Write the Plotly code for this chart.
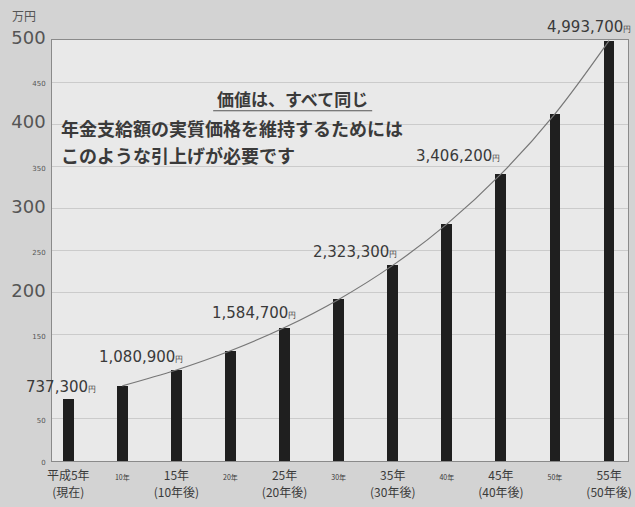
import plotly.graph_objects as go

# ---- data ----
categories = ["平成5年", "10年", "15年", "20年", "25年", "30年", "35年", "40年", "45年", "50年", "55年"]
sublabels = ["(現在)", "", "(10年後)", "", "(20年後)", "", "(30年後)", "", "(40年後)", "", "(50年後)"]
values = [73.73, 89.3, 108.09, 130.9, 158.47, 191.9, 232.33, 281.3, 340.62, 412.4, 499.37]  # 万円
value_labels = {0: "737,300", 2: "1,080,900", 4: "1,584,700", 6: "2,323,300", 8: "3,406,200", 10: "4,993,700"}
ytick_vals = [0, 50, 150, 200, 250, 300, 350, 400, 450, 500]
ytick_major = [200, 300, 400, 500]
title_text = "価値は、すべて同じ"
note_lines = ["年金支給額の実質価格を維持するためには", "このような引上げが必要です"]
unit_text = "万円"

# ---- styles / positions ----
FONT = "Noto Sans CJK JP"
NUMFONT = "DejaVu Sans"
TXT = "#3a3a3a"
label_shift = {0: (30, 12), 2: (9, 13), 4: (13, 15), 6: (6, 13), 8: (1, 18), 10: (24, 14)}

xs = list(range(len(categories)))

fig = go.Figure()
fig.add_trace(go.Bar(x=xs, y=values, width=0.2, marker=dict(color="#1f1f1f", line=dict(width=0)),
                     hoverinfo="skip"))
fig.add_trace(go.Scatter(x=xs[1:], y=values[1:], mode="lines", line=dict(color="#777777", width=1.2, shape="spline"),
                         hoverinfo="skip"))

ytext = []
for v in ytick_vals:
    if v in ytick_major:
        ytext.append(f"<span style='font-size:18px'>{v}</span>")
    else:
        ytext.append(f"<span style='font-size:7px'>{v}</span>")

xtext = []
for c, s in zip(categories, sublabels):
    if s:
        xtext.append(f"<span style='font-size:12px'>{c}</span><br><span style='font-size:12px'>{s}</span>")
    else:
        xtext.append(f"<span style='font-size:7px'>{c}</span><br> ")

annotations = []
for i, t in value_labels.items():
    dx, dy = label_shift[i]
    annotations.append(dict(x=i, y=values[i], xref="x", yref="y", xanchor="right", yanchor="middle",
                            xshift=dx, yshift=dy, showarrow=False,
                            text=f"{t}<span style='font-size:8px'>円</span>",
                            font=dict(family=NUMFONT, size=15, color=TXT)))
annotations.append(dict(x=4.14, y=431, xref="x", yref="y", xanchor="center", yanchor="middle", showarrow=False,
                        text=f"<b>{title_text}</b>", font=dict(family=FONT, size=17, color=TXT)))
for k, line in enumerate(note_lines):
    annotations.append(dict(x=0.012, y=395 - 32 * k, xref="paper", yref="y", xanchor="left", yanchor="middle",
                            showarrow=False, text=f"<b>{line}</b>", font=dict(family=FONT, size=18, color=TXT)))
annotations.append(dict(x=0.0, y=1.0, xref="paper", yref="paper", xanchor="left", yanchor="bottom", yshift=14,
                        xshift=-42, showarrow=False, text=unit_text, font=dict(family=FONT, size=12, color="#555")))

fig.update_layout(
    width=635, height=507,
    margin=dict(l=52, r=7, t=40, b=46),
    paper_bgcolor="#d3d3d3",
    plot_bgcolor="#e9e9e9",
    showlegend=False,
    bargap=0,
    annotations=annotations,
    shapes=[dict(type="line", xref="x", yref="y", x0=2.68, x1=5.62, y0=416, y1=416,
                 line=dict(color="#555555", width=1.2))],
    xaxis=dict(range=[-0.3, 10.35], tickmode="array", tickvals=xs, ticktext=xtext, automargin=False,
               showgrid=False, zeroline=False, showline=True, linecolor="#8a8a8a", linewidth=1, mirror=True,
               ticks="", ticklabelstandoff=2, tickfont=dict(family=FONT, size=13, color=TXT)),
    yaxis=dict(range=[0, 500], tickmode="array", tickvals=ytick_vals, ticktext=ytext, automargin=False,
               showgrid=True, gridcolor="#cbcbcb", gridwidth=1,
               zeroline=False, showline=True, linecolor="#8a8a8a", linewidth=1, mirror=True,
               ticks="", ticklabelstandoff=3,
               tickfont=dict(family=NUMFONT, size=12, color="#555")),
)

fig.write_html("out.html", config={"displayModeBar": False},
               post_script="document.body.style.margin='0';document.body.style.overflow='hidden';")
